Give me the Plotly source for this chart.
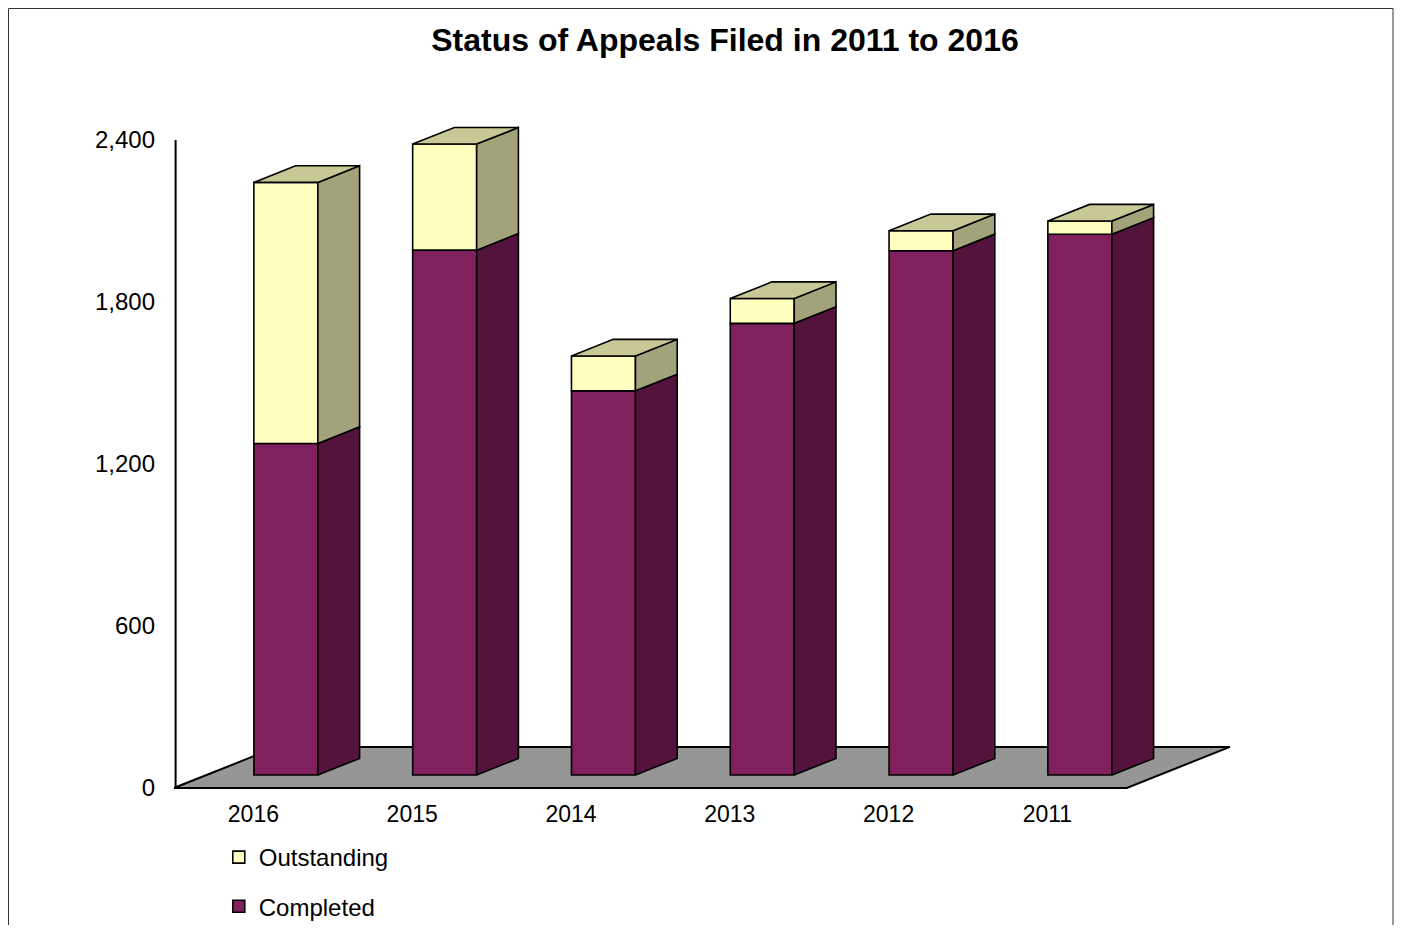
import plotly.graph_objects as go

# ---- data ----
years = ["2016", "2015", "2014", "2013", "2012", "2011"]
completed = [1228, 1944, 1423, 1673, 1942, 2003]
outstanding = [967, 393, 129, 92, 74, 49]
y_ticks = [0, 600, 1200, 1800, 2400]

# ---- styling / pseudo-3D geometry (in axis units) ----
DX, DY = 0.649, 152.0       # full floor depth vector
F1, F2 = 0.315, 0.72        # bar front / back depth fractions
BAR_W = 0.403
C_FRONT, C_SIDE = "#80205C", "#53133C"
O_FRONT, O_SIDE, O_TOP = "#FFFFC0", "#A3A37B", "#C8C896"
EDGE = dict(color="black", width=1.6)
FONT = "Liberation Sans, Arial, sans-serif"

W, H = 1386, 917            # page adds an 8px body margin on each side
ML, MR, MT, MB = 166, 154, 112, 133
PW, PH = W - ML - MR, H - MT - MB

n = len(years)
xs = list(range(n))
fx = [x + F1 * DX for x in xs]           # bar front-face centers
base0 = F1 * DY
ddx, ddy = (F2 - F1) * DX, (F2 - F1) * DY

fig = go.Figure()

# front faces as bars
fig.add_trace(go.Bar(
    x=fx, y=completed, base=[base0] * n, width=BAR_W, name="Completed",
    marker=dict(color=C_FRONT, line=EDGE), legendgroup="c", legendrank=2,
    hoverinfo="skip"))
fig.add_trace(go.Bar(
    x=fx, y=outstanding, base=[base0 + c for c in completed], width=BAR_W,
    name="Outstanding", marker=dict(color=O_FRONT, line=EDGE),
    legendgroup="o", legendrank=1, hoverinfo="skip"))


def side_polys(y0s, y1s):
    px, py = [], []
    for cx, y0, y1 in zip(fx, y0s, y1s):
        xr = cx + BAR_W / 2
        px += [xr, xr + ddx, xr + ddx, xr, xr, None]
        py += [y0, y0 + ddy, y1 + ddy, y1, y0, None]
    return px, py


c0 = [base0] * n
c1 = [base0 + c for c in completed]
o1 = [a + o for a, o in zip(c1, outstanding)]

sx, sy = side_polys(c0, c1)
fig.add_trace(go.Scatter(x=sx, y=sy, mode="lines", fill="toself",
                         fillcolor=C_SIDE, line=EDGE, showlegend=False,
                         hoverinfo="skip"))
sx, sy = side_polys(c1, o1)
fig.add_trace(go.Scatter(x=sx, y=sy, mode="lines", fill="toself",
                         fillcolor=O_SIDE, line=EDGE, showlegend=False,
                         hoverinfo="skip"))
tx, ty = [], []
for cx, yt in zip(fx, o1):
    xl, xr = cx - BAR_W / 2, cx + BAR_W / 2
    tx += [xl, xl + ddx, xr + ddx, xr, xl, None]
    ty += [yt, yt + ddy, yt + ddy, yt, yt, None]
fig.add_trace(go.Scatter(x=tx, y=ty, mode="lines", fill="toself",
                         fillcolor=O_TOP, line=EDGE, showlegend=False,
                         hoverinfo="skip"))

# floor (below bars)
x_lo, x_hi = xs[0] - 0.5, xs[-1] + 0.5
floor_path = (f"M{x_lo},0 L{x_hi},0 L{x_hi + DX},{DY} "
              f"L{x_lo + DX},{DY} Z")
shapes = [
    dict(type="path", path=floor_path, xref="x", yref="y", layer="below",
         fillcolor="#969696", line=dict(color="black", width=2)),
    # value axis line
    dict(type="line", xref="paper", yref="y", x0=0.0015, x1=0.0015,
         y0=y_ticks[0], y1=y_ticks[-1], line=dict(color="black", width=2)),
    # outer chart border
    dict(type="rect", xref="paper", yref="paper",
         x0=(0.5 - ML) / PW, x1=(W - 1 - ML) / PW,
         y0=-(MB + 30) / PH, y1=(PH + MT - 0.5) / PH,
         line=dict(color="#333333", width=1)),
]

fig.update_layout(
    width=W, height=H,
    margin=dict(l=ML, r=MR, t=MT, b=MB, autoexpand=False),
    paper_bgcolor="white", plot_bgcolor="white",
    barmode="overlay",
    shapes=shapes,
    title=dict(text="<b>Status of Appeals Filed in 2011 to 2016</b>",
               x=717 / W, xref="container", xanchor="center",
               y=1 - 32 / H, yref="container", yanchor="middle",
               font=dict(family=FONT, size=32, color="black")),
    xaxis=dict(range=[x_lo, -0.5 + PW / 158.8], tickvals=xs,
               ticktext=years, showgrid=False, zeroline=False,
               showline=False, ticks="", ticklabelstandoff=6,
               tickfont=dict(family=FONT, size=23, color="black")),
    yaxis=dict(range=[-15, 2474], tickvals=y_ticks, tickformat=",",
               showgrid=False, zeroline=False, showline=False, ticks="",
               ticklabelstandoff=18,
               tickfont=dict(family=FONT, size=24, color="black")),
    legend=dict(x=0.042, y=-0.064, xanchor="left", yanchor="top",
                orientation="v", traceorder="grouped", tracegroupgap=15,
                font=dict(family=FONT, size=24, color="black"),
                bgcolor="rgba(0,0,0,0)"),
    showlegend=True,
)

fig.write_html("out.html")
